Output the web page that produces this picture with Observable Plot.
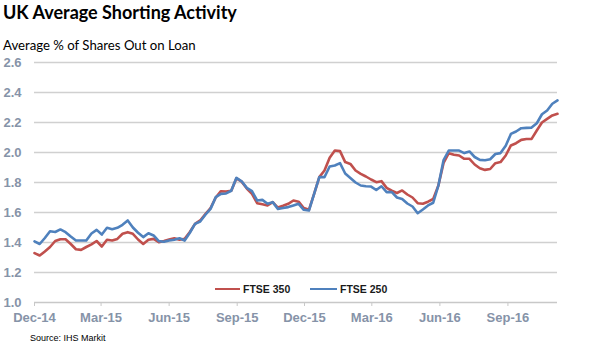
<!DOCTYPE html>
<html><head><meta charset="utf-8">
<script src="https://cdn.jsdelivr.net/npm/d3@7"></script>
<script src="https://cdn.jsdelivr.net/npm/@observablehq/plot@0.6"></script>
<style>
body{margin:0;background:#fff;}
#wrap{position:relative;width:590px;height:355px;overflow:hidden;font-family:"Liberation Sans",Arial,sans-serif;}
#title{position:absolute;left:3px;top:1px;font-family:Lato,sans-serif;font-weight:bold;font-size:18px;color:#000;white-space:nowrap;}
#subtitle{position:absolute;left:3px;top:37px;font-family:Lato,sans-serif;font-size:13.2px;color:#000;white-space:nowrap;}
#chart{position:absolute;left:0;top:50px;}
#legend{position:absolute;left:0;top:282px;width:590px;height:16px;font-weight:bold;font-size:10.5px;color:#1a1a1a;}
.sw{position:absolute;top:6px;height:0;border-top:2.5px solid;}
.lt{position:absolute;top:1px;white-space:nowrap;}
#source{position:absolute;left:30px;top:333px;font-size:9px;color:#000;white-space:nowrap;}
</style></head><body>
<div id="wrap">
  <div id="title">UK Average Shorting Activity</div>
  <div id="subtitle">Average % of Shares Out on Loan</div>
  <div id="chart"></div>
  <div id="legend"></div>
  <div id="source">Source: IHS Markit</div>
</div>
<script>
const seriesNames = ["FTSE 350", "FTSE 250"];
const seriesColors = ["#c0504d", "#4f81bd"];
const startDate = "2014-12-01";
const endDate = "2016-11-07";
const ftse350 = [1.329,1.313,1.34,1.37,1.41,1.422,1.422,1.39,1.355,1.351,1.37,1.387,1.41,1.373,1.418,1.413,1.424,1.458,1.469,1.458,1.42,1.39,1.418,1.424,1.402,1.41,1.42,1.428,1.418,1.425,1.47,1.524,1.547,1.59,1.63,1.70,1.742,1.74,1.745,1.828,1.806,1.76,1.724,1.662,1.655,1.647,1.669,1.633,1.645,1.658,1.68,1.672,1.63,1.618,1.724,1.836,1.88,1.965,2.013,2.009,1.936,1.924,1.88,1.858,1.84,1.82,1.802,1.809,1.764,1.745,1.73,1.747,1.72,1.70,1.662,1.658,1.672,1.69,1.78,1.93,1.995,1.985,1.98,1.958,1.958,1.92,1.895,1.884,1.89,1.929,1.936,1.98,2.047,2.062,2.084,2.09,2.091,2.147,2.20,2.224,2.247,2.258];
const ftse250 = [1.407,1.39,1.43,1.475,1.47,1.487,1.469,1.44,1.413,1.413,1.413,1.46,1.484,1.453,1.498,1.489,1.498,1.518,1.547,1.50,1.465,1.436,1.462,1.447,1.409,1.405,1.413,1.418,1.428,1.413,1.465,1.524,1.54,1.585,1.624,1.702,1.724,1.727,1.745,1.831,1.808,1.764,1.742,1.68,1.684,1.658,1.669,1.624,1.63,1.636,1.647,1.658,1.618,1.613,1.724,1.836,1.836,1.907,1.913,1.929,1.86,1.83,1.80,1.78,1.775,1.773,1.75,1.775,1.736,1.736,1.70,1.69,1.66,1.64,1.595,1.62,1.647,1.665,1.78,1.95,2.013,2.013,2.013,1.996,2.007,1.97,1.951,1.948,1.955,1.99,1.996,2.045,2.124,2.14,2.162,2.164,2.166,2.195,2.255,2.28,2.325,2.347];
const yTicks = [1.0,1.2,1.4,1.6,1.8,2.0,2.2,2.4,2.6];
const xTickDates = ["2014-12-01","2015-03-01","2015-06-01","2015-09-01","2015-12-01","2016-03-01","2016-06-01","2016-09-01"];
const xTickLabels = ["Dec-14","Mar-15","Jun-15","Sep-15","Dec-15","Mar-16","Jun-16","Sep-16"];

const start = new Date(startDate);
const rows = [];
[ftse350, ftse250].forEach((vals, s) => {
  vals.forEach((v, i) => rows.push({date: d3.utcWeek.offset(start, i), value: v, series: seriesNames[s]}));
});
const tickDates = xTickDates.map(d => new Date(d));
const labelOf = new Map(tickDates.map((d, i) => [+d, xTickLabels[i]]));
const axisColor = "#8693a8";

const chart = Plot.plot({
  width: 590, height: 285,
  marginLeft: 34, marginRight: 33, marginTop: 12, marginBottom: 33,
  style: {fontFamily: "'Liberation Sans', Arial, sans-serif", background: "transparent", overflow: "visible"},
  x: {type: "utc", domain: [start, new Date(endDate)]},
  y: {domain: [1.0, 2.6]},
  color: {domain: seriesNames, range: seriesColors},
  marks: [
    Plot.gridY(yTicks.slice(1), {stroke: "#d0d0d0", strokeOpacity: 1, strokeWidth: 1.3}),
    Plot.ruleY([1.0], {stroke: "#c8c8c8", strokeWidth: 1.3}),
    Plot.axisX(tickDates, {tickSize: 4, stroke: "#c8c8c8", tickPadding: 6, tickFormat: d => labelOf.get(+d),
      fontSize: 13, fontWeight: "bold", fill: axisColor, label: null}),
    Plot.axisY(yTicks, {tickSize: 0, tickPadding: 13, tickFormat: d => d.toFixed(1),
      fontSize: 13, fontWeight: "bold", fill: axisColor, label: null}),
    Plot.line(rows, {x: "date", y: "value", z: "series", stroke: "series", strokeWidth: 2.6, curve: "linear"})
  ]
});
document.getElementById("chart").appendChild(chart);

const legendItems = [
  {name: seriesNames[0], color: seriesColors[0], sx: 215, sw: 25, tx: 243},
  {name: seriesNames[1], color: seriesColors[1], sx: 310, sw: 27, tx: 340}
];
const lg = document.getElementById("legend");
legendItems.forEach(it => {
  const sw = document.createElement("div");
  sw.className = "sw"; sw.style.left = it.sx + "px"; sw.style.width = it.sw + "px"; sw.style.borderTopColor = it.color;
  const t = document.createElement("div");
  t.className = "lt"; t.style.left = it.tx + "px"; t.textContent = it.name;
  lg.appendChild(sw); lg.appendChild(t);
});
</script>
</body></html>
